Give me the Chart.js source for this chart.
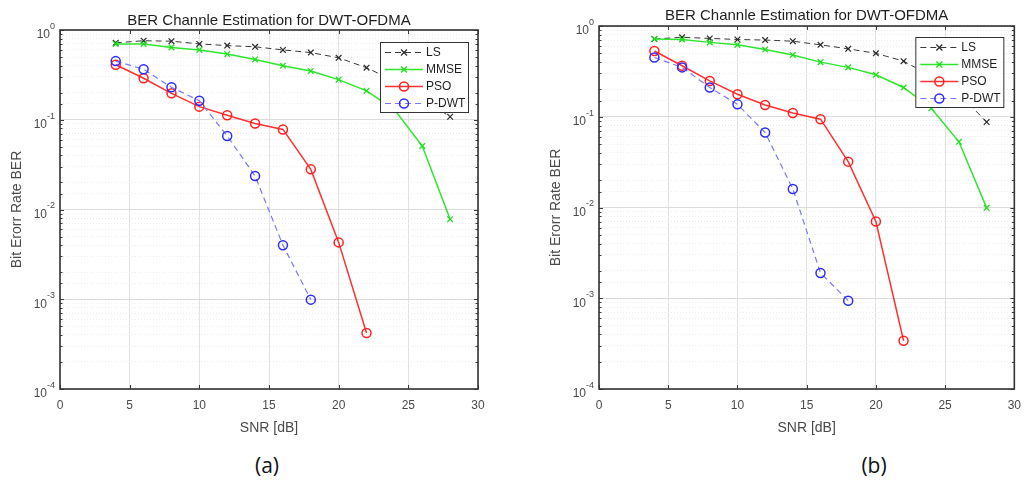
<!DOCTYPE html>
<html>
<head>
<meta charset="utf-8">
<script src="https://cdn.jsdelivr.net/npm/chart.js@4"></script>
<style>
  body { margin: 0; background: #fff; width: 1030px; height: 482px; position: relative; overflow: hidden; }
  .wrap { position: absolute; top: 0; }
  .cap { position: absolute; font-family: "Open Sans", "Liberation Sans", sans-serif; font-size: 21px; color: #111; transform: translate(-50%, -50%); }
</style>
</head>
<body>
<div class="wrap" style="left:0px"><canvas id="chartA" width="500" height="441"></canvas></div>
<div class="wrap" style="left:540px"><canvas id="chartB" width="490" height="441"></canvas></div>
<div class="cap" style="left:267px; top:465px">(a)</div>
<div class="cap" style="left:874px; top:465px">(b)</div>
<script>
// SNR points (dB) and tick labels
const snr = [4, 6, 8, 10, 12, 14, 16, 18, 20, 22, 24, 26, 28];
const xTicks = [0, 5, 10, 15, 20, 25, 30];
const yDecades = [1e-4, 1e-3, 1e-2, 1e-1, 1];
const seriesNames = ['LS', 'MMSE', 'PSO', 'P-DWT'];
const chartTitle = 'BER Channle Estimation for DWT-OFDMA';

// figure (a)
const lsA   = [0.72, 0.76, 0.75, 0.70, 0.67, 0.65, 0.60, 0.56, 0.49, 0.38, 0.27, 0.17, 0.108];
const mmseA = [0.70, 0.70, 0.64, 0.60, 0.54, 0.47, 0.40, 0.35, 0.28, 0.21, 0.13, 0.051, 0.0078];
const psoA  = [0.41, 0.29, 0.197, 0.14, 0.112, 0.091, 0.078, 0.028, 0.0043, 0.00042];
const pdwtA = [0.45, 0.365, 0.23, 0.163, 0.066, 0.0236, 0.0040, 0.00099];

// figure (b)
const lsB   = [0.72, 0.75, 0.73, 0.71, 0.70, 0.68, 0.62, 0.56, 0.50, 0.41, 0.28, 0.18, 0.0875];
const mmseB = [0.72, 0.71, 0.66, 0.62, 0.55, 0.48, 0.40, 0.35, 0.29, 0.21, 0.124, 0.053, 0.0099];
const psoB  = [0.53, 0.365, 0.248, 0.177, 0.135, 0.11, 0.094, 0.032, 0.007, 0.00034];
const pdwtB = [0.45, 0.35, 0.21, 0.137, 0.067, 0.016, 0.0019, 0.00094];

const FONT = '"Liberation Sans", Arial, sans-serif';
function isDecade(v) { const e = Math.log10(v); return Math.abs(e - Math.round(e)) < 1e-6; }
function pts(arr) { return arr.map((y, i) => ({ x: snr[i], y })); }

function makeDatasets(ls, mmse, pso, pdwt) {
  return [
    { label: seriesNames[0], data: pts(ls), borderColor: '#3a3a3a', borderWidth: 1, borderDash: [6, 4],
      pointStyle: 'crossRot', pointRadius: 4, pointBorderColor: '#2a2a2a', pointBorderWidth: 1.2, order: 4 },
    { label: seriesNames[1], data: pts(mmse), borderColor: '#2ee62e', borderWidth: 1.5,
      pointStyle: 'crossRot', pointRadius: 4, pointBorderColor: '#22dd22', pointBorderWidth: 1.3, order: 3 },
    { label: seriesNames[2], data: pts(pso), borderColor: '#ff3030', borderWidth: 1.5,
      pointStyle: 'circle', pointRadius: 4.5, pointBorderColor: '#ff2020', pointBackgroundColor: 'rgba(0,0,0,0)', pointBorderWidth: 1.5, order: 2 },
    { label: seriesNames[3], data: pts(pdwt), borderColor: '#7878ff', borderWidth: 1.2, borderDash: [6, 4],
      pointStyle: 'circle', pointRadius: 4.5, pointBorderColor: '#2b2bff', pointBackgroundColor: 'rgba(0,0,0,0)', pointBorderWidth: 1.5, order: 1 }
  ];
}

// axes box with inward ticks, 10^n labels, title and legend, MATLAB style
const boxPlugin = {
  id: 'matBox',
  afterDatasetsDraw(chart) {
    const { ctx, chartArea: a, scales } = chart;
    const opt = chart.options.plugins.matBox;
    ctx.save();
    ctx.strokeStyle = '#3c3c3c';
    ctx.lineWidth = 1;
    scales.x.ticks.forEach(t => {
      const px = Math.round(scales.x.getPixelForValue(t.value)) + 0.5;
      ctx.beginPath();
      ctx.moveTo(px, a.bottom); ctx.lineTo(px, a.bottom - 4);
      ctx.moveTo(px, a.top); ctx.lineTo(px, a.top + 4);
      ctx.stroke();
    });
    scales.y.ticks.forEach(t => {
      const py = Math.round(scales.y.getPixelForValue(t.value)) + 0.5;
      const len = isDecade(t.value) ? 4 : 2.5;
      ctx.beginPath();
      ctx.moveTo(a.left, py); ctx.lineTo(a.left + len, py);
      ctx.moveTo(a.right, py); ctx.lineTo(a.right - len, py);
      ctx.stroke();
    });
    ctx.lineWidth = 1.6;
    ctx.strokeStyle = '#333';
    ctx.strokeRect(a.left, a.top, a.right - a.left, a.bottom - a.top);

    // y tick labels as 10 with a raised exponent
    ctx.fillStyle = '#4a4a4a';
    ctx.textAlign = 'right';
    ctx.textBaseline = 'middle';
    yDecades.forEach(d => {
      const py = scales.y.getPixelForValue(d);
      const ex = String(Math.round(Math.log10(d)));
      ctx.font = '9px ' + FONT;
      const ew = ctx.measureText(ex).width;
      ctx.fillText(ex, a.left - opt.labelGap, py - 3.5);
      ctx.font = '12px ' + FONT;
      ctx.fillText('10', a.left - opt.labelGap - ew, py + 5);
    });

    // title centred over the plot area
    ctx.textAlign = 'center';
    ctx.fillStyle = '#1e1e1e';
    ctx.font = '15px ' + FONT;
    ctx.fillText(chartTitle, (a.left + a.right) / 2, opt.titleY);

    // legend box in the upper right corner
    const w = 88, h = 70;
    const bx = a.right - opt.right - w, by = a.top + opt.top;
    ctx.fillStyle = '#fff';
    ctx.fillRect(bx, by, w, h);
    ctx.lineWidth = 1;
    ctx.strokeStyle = '#333';
    ctx.strokeRect(bx + 0.5, by + 0.5, w, h);
    ctx.font = '12px ' + FONT;
    ctx.textAlign = 'left';
    chart.data.datasets.forEach((ds, i) => {
      const y = by + 10.5 + i * 17;
      const cx = bx + 24;
      ctx.save();
      ctx.strokeStyle = ds.borderColor;
      ctx.lineWidth = ds.borderWidth;
      ctx.setLineDash(ds.borderDash || []);
      ctx.beginPath();
      ctx.moveTo(bx + 5, y); ctx.lineTo(bx + 43, y);
      ctx.stroke();
      ctx.restore();
      ctx.save();
      ctx.strokeStyle = ds.pointBorderColor;
      ctx.lineWidth = ds.pointBorderWidth;
      ctx.beginPath();
      if (ds.pointStyle === 'circle') {
        ctx.arc(cx, y, ds.pointRadius, 0, Math.PI * 2);
      } else {
        const r = ds.pointRadius * 0.75;
        ctx.moveTo(cx - r, y - r); ctx.lineTo(cx + r, y + r);
        ctx.moveTo(cx - r, y + r); ctx.lineTo(cx + r, y - r);
      }
      ctx.stroke();
      ctx.restore();
      ctx.fillStyle = '#1e1e1e';
      ctx.fillText(ds.label, bx + 46, y + 0.5);
    });
    ctx.restore();
  }
};

function makeChart(id, datasets, cfg) {
  return new Chart(document.getElementById(id), {
    type: 'line',
    data: { datasets },
    plugins: [boxPlugin],
    options: {
      responsive: false,
      animation: false,
      devicePixelRatio: 1,
      layout: { padding: { left: 0, right: cfg.padRight, top: cfg.padTop, bottom: 0 } },
      elements: { line: { tension: 0, fill: false } },
      plugins: {
        legend: { display: false },
        tooltip: { enabled: false },
        title: { display: false },
        matBox: { right: cfg.legRight, top: cfg.legTop, titleY: cfg.titleY, labelGap: 5 }
      },
      scales: {
        x: {
          type: 'linear', min: 0, max: 30,
          afterBuildTicks: s => { s.ticks = xTicks.map(v => ({ value: v })); },
          afterFit: s => { s.height = 52; },
          grid: { color: '#e2e2e2', lineWidth: 1, drawTicks: false },
          border: { display: false },
          ticks: { padding: 9, color: '#4a4a4a', font: { family: FONT, size: 12 }, maxRotation: 0 },
          title: { display: true, text: 'SNR [dB]', color: '#4a4a4a', padding: { top: 4, bottom: 4 },
                   font: { family: FONT, size: 14, lineHeight: 1.2 } }
        },
        y: {
          type: 'logarithmic', min: 1e-4, max: 1,
          afterFit: s => { s.width = cfg.yWidth; },
          grid: {
            drawTicks: false,
            color: c => isDecade(c.tick.value) ? '#dcdcdc' : '#ececec',
            lineWidth: 1
          },
          border: { display: false, dash: c => (c.tick && !isDecade(c.tick.value)) ? [1, 2] : [] },
          ticks: { autoSkip: false, padding: 6, callback: () => '' },
          title: { display: true, text: 'Bit Erorr Rate BER', color: '#4a4a4a', padding: { top: cfg.yTitlePad, bottom: 0 },
                   font: { family: FONT, size: 14, lineHeight: 1.2 } }
        }
      }
    }
  });
}

makeChart('chartA', makeDatasets(lsA, mmseA, psoA, pdwtA),
  { padRight: 22, padTop: 30, yWidth: 60, titleY: 21, yTitlePad: 9, legRight: 10, legTop: 12 });
makeChart('chartB', makeDatasets(lsB, mmseB, psoB, pdwtB),
  { padRight: 7, padTop: 26, yWidth: 59, titleY: 16, yTitlePad: 8, legRight: 11, legTop: 11 });
</script>
</body>
</html>
